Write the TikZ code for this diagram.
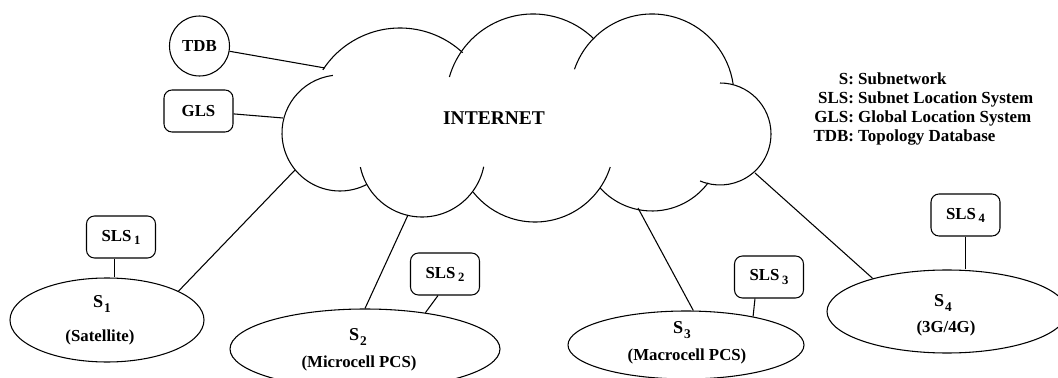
\documentclass[tikz,border=0pt]{standalone}
\usepackage{fontspec}
\setmainfont{Liberation Serif}
\usetikzlibrary{shapes.geometric,calc}
\newcommand\lblfont{\bfseries\fontsize{12.6}{14}\selectfont}
\newcommand\bigSfont{\bfseries\fontsize{13.6}{15}\selectfont}
\newcommand\netfont{\bfseries\fontsize{14.6}{16}\selectfont}
\newcommand\legfont{\bfseries\fontsize{12.7}{14.25}\selectfont}
\newcommand\Sname[1]{S\kern0.8pt\raisebox{-4pt}{\fontsize{10}{10}\selectfont #1}}
\newcommand\SLSname[1]{SLS\kern2pt\raisebox{-2.3pt}{\fontsize{9.5}{10}\selectfont #1}}
\tikzset{
  slsbox/.style={draw, rounded corners=6pt, minimum width=51.75pt, minimum height=31.5pt, inner sep=0pt, font=\lblfont},
  dbcirc/.style={draw, circle, minimum size=45pt, inner sep=0pt, font=\lblfont},
  subnet/.style={draw, ellipse, inner sep=0pt},
  sname/.style={anchor=base, inner sep=0pt, font=\bigSfont},
  stype/.style={anchor=base, inner sep=0pt, font=\lblfont},
  link/.style={draw, line width=0.8pt},
}
\begin{document}
\begin{tikzpicture}[x=0.75pt,y=0.75pt,line width=0.8pt]
\useasboundingbox (0,0) rectangle (1058,-378);
\clip (0,0) rectangle (1058,-378);
% cloud
\draw ([shift={(97:58)}]340,-133) arc[start angle=97,end angle=297.4,radius=58];
\draw ([shift={(147:92)}]400,-120) arc[start angle=147,end angle=47,radius=92];
\draw ([shift={(164:87)}]533,-101) arc[start angle=164,end angle=45.5,radius=87];
\draw ([shift={(161:82)}]652,-96) arc[start angle=161,end angle=8,radius=82];
\draw ([shift={(90:51)}]720,-134) arc[start angle=90,end angle=-113,radius=51];
\draw ([shift={(-36.7:70)}]652,-141) arc[start angle=-36.7,end angle=-138,radius=70];
\draw ([shift={(-17.7:79)}]535,-143) arc[start angle=-17.7,end angle=-141.7,radius=79];
\draw ([shift={(-11.7:63)}]422,-154) arc[start angle=-11.7,end angle=-168,radius=63];
\node[inner sep=0pt, anchor=base, font=\netfont] (internet) at (494,-125) {INTERNET};
\coordinate (ctdb) at (325,-68);
\coordinate (cgls) at (283,-118);
\coordinate (cs1) at (295,-170);
\coordinate (cs2) at (408,-215);
\coordinate (cs3) at (638,-208);
\coordinate (cs4) at (755,-173);
% TDB and GLS
\node[dbcirc] (tdb) at (199.5,-46) {TDB};
\node[slsbox] (gls) at (198.5,-111) {GLS};
\draw (tdb) -- (ctdb);
\draw (gls) -- (cgls);
% subnets
\node[subnet, minimum width=145.5pt, minimum height=63pt] (s1) at (107,-320) {};
\node[subnet, minimum width=202.5pt, minimum height=60pt] (s2) at (365,-349) {};
\node[subnet, minimum width=177pt, minimum height=51pt] (s3) at (686,-345) {};
\node[subnet, minimum width=180pt, minimum height=62.25pt] (s4) at (947,-311.5) {};
\node[sname] (s1a) at (102,-307) {\Sname{1}};
\node[stype] (s1b) at (100,-341) {(Satellite)};
\node[sname] (s2a) at (358,-340) {\Sname{2}};
\node[stype] (s2b) at (359,-367) {(Microcell PCS)};
\node[sname] (s3a) at (682,-333) {\Sname{3}};
\node[stype] (s3b) at (687,-360) {(Macrocell PCS)};
\node[sname] (s4a) at (943,-306) {\Sname{4}};
\node[stype] (s4b) at (946,-332) {(3G/4G)};
% SLS boxes
\node[slsbox] (sls1) at (121,-237) {\SLSname{1}};
\node[slsbox] (sls2) at (445,-274) {\SLSname{2}};
\node[slsbox] (sls3) at (769,-277) {\SLSname{3}};
\node[slsbox] (sls4) at (965.5,-215) {\SLSname{4}};
\draw ([xshift=-5pt]sls1.south) -- ([xshift=-5pt]sls1.south |- s1.north);
\draw ([xshift=-5.25pt]sls2.south) -- (s2.31);
\draw ([xshift=-10.5pt]sls3.south) -- (s3.23.5);
\draw (sls4.south) -- (sls4.south |- s4.north);
% subnet to internet
\draw (s1.22) -- (cs1);
\draw (s2.north) -- (cs2);
\draw (s3.78) -- (cs3);
\draw (s4.156.4) -- (cs4);
% legend
\node[anchor=base west, inner sep=0pt, font=\legfont] (legend) at (813,-85)
  {\begin{tabular}[t]{@{}r@{\ }l@{}}
   S: & Subnetwork\\
   SLS: & Subnet Location System\\
   GLS: & Global Location System\\
   TDB: & Topology Database
   \end{tabular}};
\end{tikzpicture}
\end{document}
